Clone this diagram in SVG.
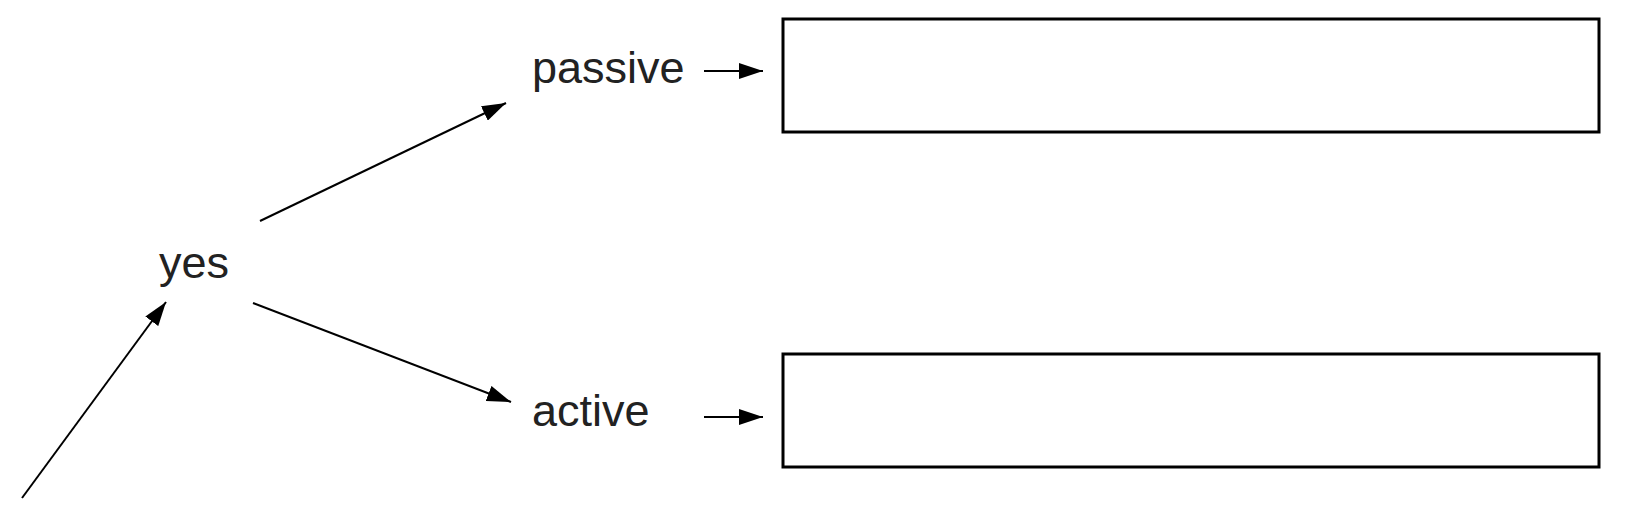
<svg xmlns="http://www.w3.org/2000/svg" width="1627" height="516" viewBox="0 0 1627 516">
<style>
text{font-family:"Liberation Sans",Arial,sans-serif;font-size:45px;fill:#222}
.c{stroke:#000;stroke-width:2;fill:none;marker-end:url(#ah)}
.box{fill:#fff;stroke:#000;stroke-width:3}
</style>
<defs>
<marker id="ah" markerUnits="userSpaceOnUse" markerWidth="24" markerHeight="16" viewBox="0 0 24 16" refX="24" refY="8" orient="auto">
<path d="M0,0 L24,8 L0,16 Z" fill="#000"/>
</marker>
</defs>
<rect width="1627" height="516" fill="#fff"/>
<g id="connectors">
<line class="c" x1="22" y1="498" x2="166" y2="302"/>
<line class="c" x1="260" y1="221" x2="506" y2="103"/>
<line class="c" x1="253" y1="303" x2="511" y2="402"/>
<line class="c" x1="704" y1="71" x2="763" y2="71"/>
<line class="c" x1="704" y1="417" x2="763" y2="417"/>
</g>
<g id="yes"><text x="159" y="278">yes</text></g>
<g id="passive"><text x="532" y="83">passive</text></g>
<g id="active"><text x="532" y="426">active</text></g>
<g id="box-passive"><rect class="box" x="783" y="19" width="816" height="113"/></g>
<g id="box-active"><rect class="box" x="783" y="354" width="816" height="113"/></g>
</svg>
